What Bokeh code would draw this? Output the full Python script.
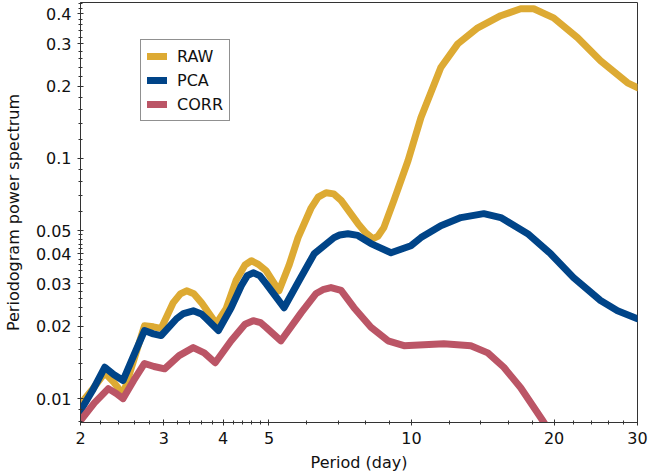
from bokeh.plotting import figure
from bokeh.models import Range1d, FixedTicker, CustomJSTickFormatter, Legend, LegendItem
from bokeh.embed import file_html
from bokeh.resources import INLINE

# ---- data ----
raw_x = [2.00, 2.11, 2.25, 2.35, 2.46, 2.59, 2.73, 2.85, 2.96, 3.14, 3.25, 3.35, 3.47, 3.60, 3.87,
         4.06, 4.26, 4.45, 4.59, 4.75, 4.93, 5.25, 5.51, 5.76, 6.14, 6.35, 6.60, 6.85, 7.10, 7.71,
         8.00, 8.29, 8.50, 8.74, 9.18, 9.83, 10.47, 11.53, 12.52, 13.80, 15.43, 17.00, 18.11,
         19.95, 22.42, 25.06, 28.58, 30.0]
raw_y = [0.0095, 0.0108, 0.0128, 0.0117, 0.0104, 0.0144, 0.0201, 0.0199, 0.0196, 0.0251,
         0.0273, 0.0281, 0.0273, 0.0251, 0.0205, 0.0237, 0.0310, 0.0360, 0.0375, 0.0362,
         0.0341, 0.0281, 0.0358, 0.0468, 0.0623, 0.0690, 0.0720, 0.0712, 0.0669, 0.0535,
         0.0490, 0.0463, 0.0475, 0.0515, 0.0669, 0.0978, 0.148, 0.239, 0.300, 0.350,
         0.393, 0.420, 0.420, 0.385, 0.318, 0.255, 0.2065, 0.197]

pca_x = [2.00, 2.12, 2.25, 2.35, 2.46, 2.59, 2.73, 2.85, 2.96, 3.19, 3.30, 3.46, 3.60, 3.69, 3.91,
         4.16, 4.37, 4.50, 4.63, 4.78, 4.93, 5.38, 5.79, 6.23, 6.86, 7.05, 7.34, 7.70, 8.21,
         9.05, 9.97, 10.47, 11.53, 12.71, 14.21, 15.43, 17.59, 19.66, 21.98, 25.06, 27.22, 30.0]
pca_y = [0.0089, 0.0108, 0.0135, 0.0126, 0.0119, 0.0151, 0.0192, 0.0186, 0.0183, 0.0215,
         0.0226, 0.0232, 0.0225, 0.0215, 0.0192, 0.0239, 0.0295, 0.0325, 0.0334, 0.0325,
         0.0301, 0.0239, 0.0310, 0.0401, 0.0468, 0.0480, 0.0486, 0.0478, 0.0442, 0.0405,
         0.0433, 0.0468, 0.0525, 0.0567, 0.0589, 0.0567, 0.0486, 0.0401, 0.0319, 0.0256,
         0.0232, 0.0215]

corr_x = [2.00, 2.14, 2.29, 2.38, 2.46, 2.59, 2.73, 2.86, 3.01, 3.23, 3.46, 3.65, 3.85, 4.16,
          4.45, 4.63, 4.80, 4.93, 5.30, 5.85, 6.29, 6.50, 6.76, 7.10, 7.56, 8.21, 8.92, 9.64,
          11.70, 13.34, 14.49, 15.66, 17.00, 18.92, 19.66]
corr_y = [0.0081, 0.0096, 0.0110, 0.0105, 0.0100, 0.0119, 0.0140, 0.0136, 0.0133, 0.0151,
          0.0163, 0.0155, 0.0141, 0.0174, 0.0204, 0.0211, 0.0207, 0.0198, 0.0174, 0.0228,
          0.0274, 0.0284, 0.0290, 0.0282, 0.0239, 0.0198, 0.0174, 0.0166, 0.0169, 0.0166,
          0.0155, 0.0135, 0.0111, 0.0081, 0.0072]

series_names = ["RAW", "PCA", "CORR"]
series_colors = ["#DDAA33", "#004488", "#BB5566"]

x_major = [2, 3, 4, 5, 10, 20, 30]
x_minor = [2.2, 2.4, 2.6, 2.8, 3.2, 3.4, 3.6, 3.8, 4.2, 4.4, 4.6, 4.8, 6, 7, 8, 9,
           12, 14, 16, 18, 22, 24, 26, 28]
y_major = [0.01, 0.02, 0.03, 0.04, 0.05, 0.1, 0.2, 0.3, 0.4]
y_minor = [0.008, 0.009, 0.012, 0.014, 0.016, 0.018, 0.022, 0.024, 0.026, 0.028,
           0.032, 0.034, 0.036, 0.038, 0.042, 0.044, 0.046, 0.048, 0.06, 0.07, 0.08, 0.09,
           0.12, 0.14, 0.16, 0.18, 0.22, 0.24, 0.26, 0.28, 0.32, 0.34, 0.36, 0.38, 0.42, 0.44]

FONT = "DejaVu Sans"

p = figure(width=649, height=476, x_axis_type="log", y_axis_type="log",
           x_range=Range1d(2, 30), y_range=Range1d(0.00795, 0.446),
           output_backend="svg", toolbar_location=None,
           min_border_left=79, min_border_right=12, min_border_top=2, min_border_bottom=54)
p.background_fill_color = "white"
p.border_fill_color = "white"
p.outline_line_color = "#333333"
p.outline_line_width = 1
p.xgrid.visible = False
p.ygrid.visible = False

renderers = []
for xs, ys, c in zip([raw_x, pca_x, corr_x], [raw_y, pca_y, corr_y], series_colors):
    r = p.line(xs, ys, line_color=c, line_width=7, line_cap="round", line_join="round")
    renderers.append(r)

fmt = CustomJSTickFormatter(code="return String(tick);")
for ax, major, minor in [(p.xaxis[0], x_major, x_minor), (p.yaxis[0], y_major, y_minor)]:
    ax.ticker = FixedTicker(ticks=major, minor_ticks=minor)
    ax.formatter = fmt
    ax.major_tick_in = 3
    ax.major_tick_out = 3
    ax.minor_tick_in = 2
    ax.minor_tick_out = 2
    ax.axis_line_color = "#333333"
    ax.major_tick_line_color = "#333333"
    ax.minor_tick_line_color = "#333333"
    ax.major_label_text_font = FONT
    ax.major_label_text_font_size = "16px"
    ax.major_label_text_color = "#111111"
    ax.major_label_standoff = 6
    ax.axis_label_text_font = FONT
    ax.axis_label_text_font_size = "16px"
    ax.axis_label_text_font_style = "normal"
    ax.axis_label_text_color = "#111111"

p.xaxis[0].axis_label = "Period (day)"
p.xaxis[0].axis_label_standoff = 6
p.yaxis[0].axis_label = "Periodogram power spectrum"
p.yaxis[0].axis_label_standoff = 10

legend = Legend(items=[LegendItem(label=n, renderers=[r]) for n, r in zip(series_names, renderers)],
                location=(60, 301))
legend.border_line_color = "#222222"
legend.border_line_width = 1
legend.background_fill_color = "white"
legend.background_fill_alpha = 1
legend.label_text_font = FONT
legend.label_text_font_size = "16px"
legend.label_text_color = "#111111"
legend.padding = 6
legend.spacing = 4
legend.margin = 0
legend.glyph_width = 20
legend.glyph_height = 20
legend.label_height = 20
legend.label_standoff = 10
p.add_layout(legend, "center")

open("out.html", "w").write(file_html(p, INLINE))
